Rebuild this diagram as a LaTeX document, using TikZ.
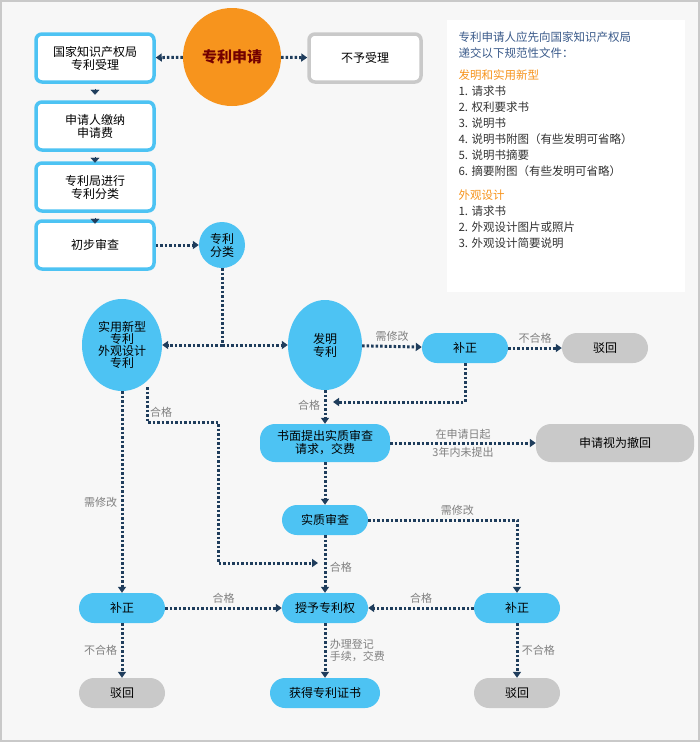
\documentclass[tikz,border=0pt]{standalone}
\usepackage{fontspec}
\setmainfont{Noto Sans CJK SC}
\usetikzlibrary{arrows.meta,shapes.geometric}
\definecolor{skyb}{HTML}{4DC3F3}
\definecolor{navy}{HTML}{1F3D5C}
\definecolor{greyb}{HTML}{C9C9C9}
\definecolor{orng}{HTML}{F7941D}
\definecolor{txtb}{HTML}{3A5A8A}
\begin{document}
\begin{tikzpicture}[x=1pt,y=-1pt]
\tikzset{ >={Triangle[length=6pt,width=8pt]}, font=\fontsize{12}{13}\selectfont,
  sqbox/.style={draw=skyb, line width=3.5pt, fill=white, rounded corners=6pt, minimum width=118pt, minimum height=48pt, align=center},
  pill/.style={fill=skyb, rounded corners=15pt, minimum width=86pt, minimum height=30pt, align=center},
  greypill/.style={fill=greyb, rounded corners=15pt, minimum width=86pt, minimum height=30pt, align=center},
  dots/.style={navy, line width=3pt, dash pattern=on 2.5pt off 2pt},
  lbl/.style={text=gray, font=\fontsize{11}{12}\selectfont, align=left},
}

%\draw [lightgray, dashed](0,0) grid (700,742);
\useasboundingbox (0,0) rectangle (700,742);
\draw [fill=white!97!black, draw=greyb, line width=1.5pt] (1,1) rectangle (699,741);

% top part
\node [sqbox] (ack) at (95,58) {国家知识产权局\\专利受理};
\node [sqbox] (fee) at (95,126) {申请人缴纳\\申请费};
\node [sqbox] (cls) at (95,187) {专利局进行\\专利分类};
\node [sqbox] (pre) at (95,245) {初步审查};
\node [circle, fill=orng, minimum size=98pt, text=red!45!black, font=\fontsize{15}{16}\selectfont\bfseries] (app) at (232,57) {专利申请};
\node [sqbox, draw=greyb, minimum width=112pt] (rej) at (365,58) {不予受理};
\node [circle, fill=skyb, minimum size=46pt, inner sep=0pt, align=center] (kind) at (222,245) {专利\\分类};

\draw [->, dots] (app) -- (ack);
\draw [->, dots] (app) -- (rej);
\draw [-{Triangle[length=5pt,width=9pt]}, navy] (ack.south) ++(0,5) -- ++(0,6);
\draw [-{Triangle[length=5pt,width=9pt]}, navy] (fee.south) ++(0,5) -- ++(0,6);
\draw [-{Triangle[length=5pt,width=9pt]}, navy] (cls.south) ++(0,5) -- ++(0,6);
\draw [->, dots] (pre) -- (kind);

% panel
\node [fill=white, minimum width=238pt, minimum height=272pt] (panel) at (566,156) {};
\node [anchor=north west, align=left, text=txtb, font=\fontsize{11.5}{16}\selectfont] (notes) at (455,28) {专利申请人应先向国家知识产权局\\递交以下规范性文件：\\[6pt]
{\color{orng}发明和实用新型}\\
{\color{black!80}1. 请求书}\\
{\color{black!80}2. 权利要求书}\\
{\color{black!80}3. 说明书}\\
{\color{black!80}4. 说明书附图（有些发明可省略）}\\
{\color{black!80}5. 说明书摘要}\\
{\color{black!80}6. 摘要附图（有些发明可省略）}\\[8pt]
{\color{orng}外观设计}\\
{\color{black!80}1. 请求书}\\
{\color{black!80}2. 外观设计图片或照片}\\
{\color{black!80}3. 外观设计简要说明}};

% lower part
\node [ellipse, fill=skyb, minimum width=80pt, minimum height=92pt, inner sep=0pt, align=center, font=\fontsize{12}{12}\selectfont] (util) at (122,345) {实用新型\\专利\\外观设计\\专利};
\node [ellipse, fill=skyb, minimum width=74pt, minimum height=90pt, inner sep=0pt, align=center] (inv) at (325,345) {发明\\专利};
\node [pill] (fixa) at (465,348) {补正};
\node [greypill] (rja) at (605,348) {驳回};
\node [pill, minimum width=130pt, minimum height=38pt] (req) at (325,443) {书面提出实质审查\\请求，交费};
\node [greypill, minimum width=158pt, minimum height=38pt] (wd) at (615,443) {申请视为撤回};
\node [pill] (exam) at (325,520) {实质审查};
\node [pill] (grant) at (325,608) {授予专利权};
\node [pill] (fixl) at (122,608) {补正};
\node [pill] (fixr) at (517,608) {补正};
\node [greypill] (rjl) at (122,693) {驳回};
\node [pill, minimum width=110pt] (cert) at (325,693) {获得专利证书};
\node [greypill] (rjr) at (517,693) {驳回};

\coordinate (fork) at (222,345);
\coordinate (join) at (325,402);
\coordinate (bend) at (218,563);
\draw [dots] (kind) -- (fork);
\draw [->, dots] (fork) -- (util.east);
\draw [->, dots] (fork) -- (inv.west);
\draw [->, dots] (inv) -- node [lbl, above] {需修改} (fixa);
\draw [->, dots] (fixa) -- node [lbl, above] {不合格} (rja);
\draw [->, dots] (fixa) |- ([xshift=8pt]join);
\draw [->, dots] (inv) -- node [lbl, left, pos=0.45] {合格} (req);
\draw [->, dots] (req) -- node [lbl, above, yshift=-1pt] {在申请日起} node [lbl, below, yshift=1pt] {3年内未提出} (wd);
\draw [->, dots] (req) -- (exam);
\draw [->, dots] (exam) -| node [lbl, above, pos=0.3] {需修改} (fixr);
\draw [->, dots] (exam) -- node [lbl, right, pos=0.55] {合格} (grant);
\draw [->, dots] (147,387) |- node [lbl, above, pos=0.6] {合格} (218,422) -- (bend) -- ([xshift=-7pt]bend -| grant);
\draw [->, dots] (util) -- node [lbl, left, pos=0.55] {需修改} (fixl);
\draw [->, dots] (fixl) -- node [lbl, above] {合格} (grant);
\draw [->, dots] (fixr) -- node [lbl, above] {合格} (grant);
\draw [->, dots] (fixl) -- node [lbl, left] {不合格} (rjl);
\draw [->, dots] (grant) -- node [lbl, right] {办理登记\\手续，交费} (cert);
\draw [->, dots] (fixr) -- node [lbl, right] {不合格} (rjr);
\end{tikzpicture}
\end{document}
